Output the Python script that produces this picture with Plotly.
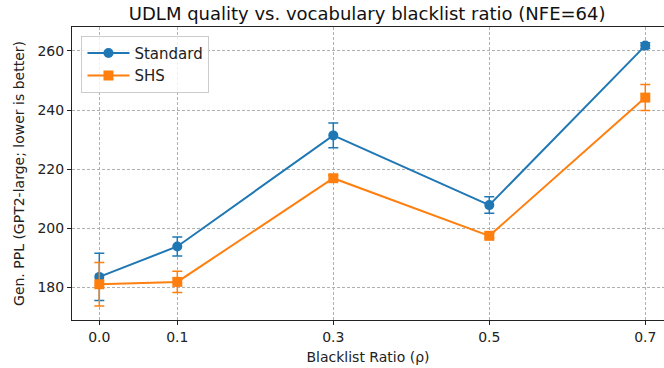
import plotly.graph_objects as go

ratios = [0.0, 0.1, 0.3, 0.5, 0.7]
tick_labels = ["0.0", "0.1", "0.3", "0.5", "0.7"]
standard_ppl = [183.5, 193.8, 231.4, 207.8, 261.8]
standard_err = [8.0, 3.2, 4.2, 2.8, 1.0]
shs_ppl = [181.0, 181.8, 216.9, 197.4, 244.2]
shs_err = [7.4, 3.6, 1.0, 0.8, 4.4]

blue = "#1f77b4"
orange = "#ff7f0e"
font = "DejaVu Sans"

fig = go.Figure()
fig.add_trace(go.Scatter(
    x=ratios, y=standard_ppl, mode="lines+markers", name="Standard",
    line=dict(color=blue, width=2),
    marker=dict(symbol="circle", size=10, color=blue),
    error_y=dict(type="data", array=standard_err, visible=True, color=blue, thickness=1.5, width=5),
))
fig.add_trace(go.Scatter(
    x=ratios, y=shs_ppl, mode="lines+markers", name="SHS",
    line=dict(color=orange, width=2),
    marker=dict(symbol="square", size=10, color=orange),
    error_y=dict(type="data", array=shs_err, visible=True, color=orange, thickness=1.5, width=5),
))

axis_common = dict(
    showgrid=True, gridcolor="#b0b0b0", gridwidth=0.8, griddash="3px,2px",
    ticks="outside", ticklen=4, tickwidth=1, tickcolor="#222",
    showline=True, linecolor="#222", linewidth=1,
    tickfont=dict(family=font, size=14, color="#222"),
    zeroline=False,
)

fig.update_layout(
    width=664, height=368,
    margin=dict(l=72, r=0, t=27, b=48),
    paper_bgcolor="white", plot_bgcolor="white",
    font=dict(family=font, size=14, color="#222"),
    title=dict(text="UDLM quality vs. vocabulary blacklist ratio (NFE=64)",
               x=0.553, xanchor="center", y=0.963, yanchor="middle",
               font=dict(family=font, size=18, color="#111")),
    xaxis=dict(axis_common, range=[-0.035, 0.724], tickvals=ratios, ticktext=tick_labels,
               mirror=True,
               title=dict(text="Blacklist Ratio (ρ)", font=dict(family=font, size=14), standoff=8)),
    yaxis=dict(axis_common, range=[168.9, 268.1], tickvals=[180, 200, 220, 240, 260],
               title=dict(text="Gen. PPL (GPT2-large; lower is better)", font=dict(family=font, size=14), standoff=9)),
    legend=dict(x=0.016, y=0.97, xanchor="left", yanchor="top",
                bgcolor="rgba(255,255,255,0.8)", bordercolor="#cccccc", borderwidth=1,
                itemwidth=42, font=dict(family=font, size=15)),
    showlegend=True,
)

fig.write_html("out.html")
